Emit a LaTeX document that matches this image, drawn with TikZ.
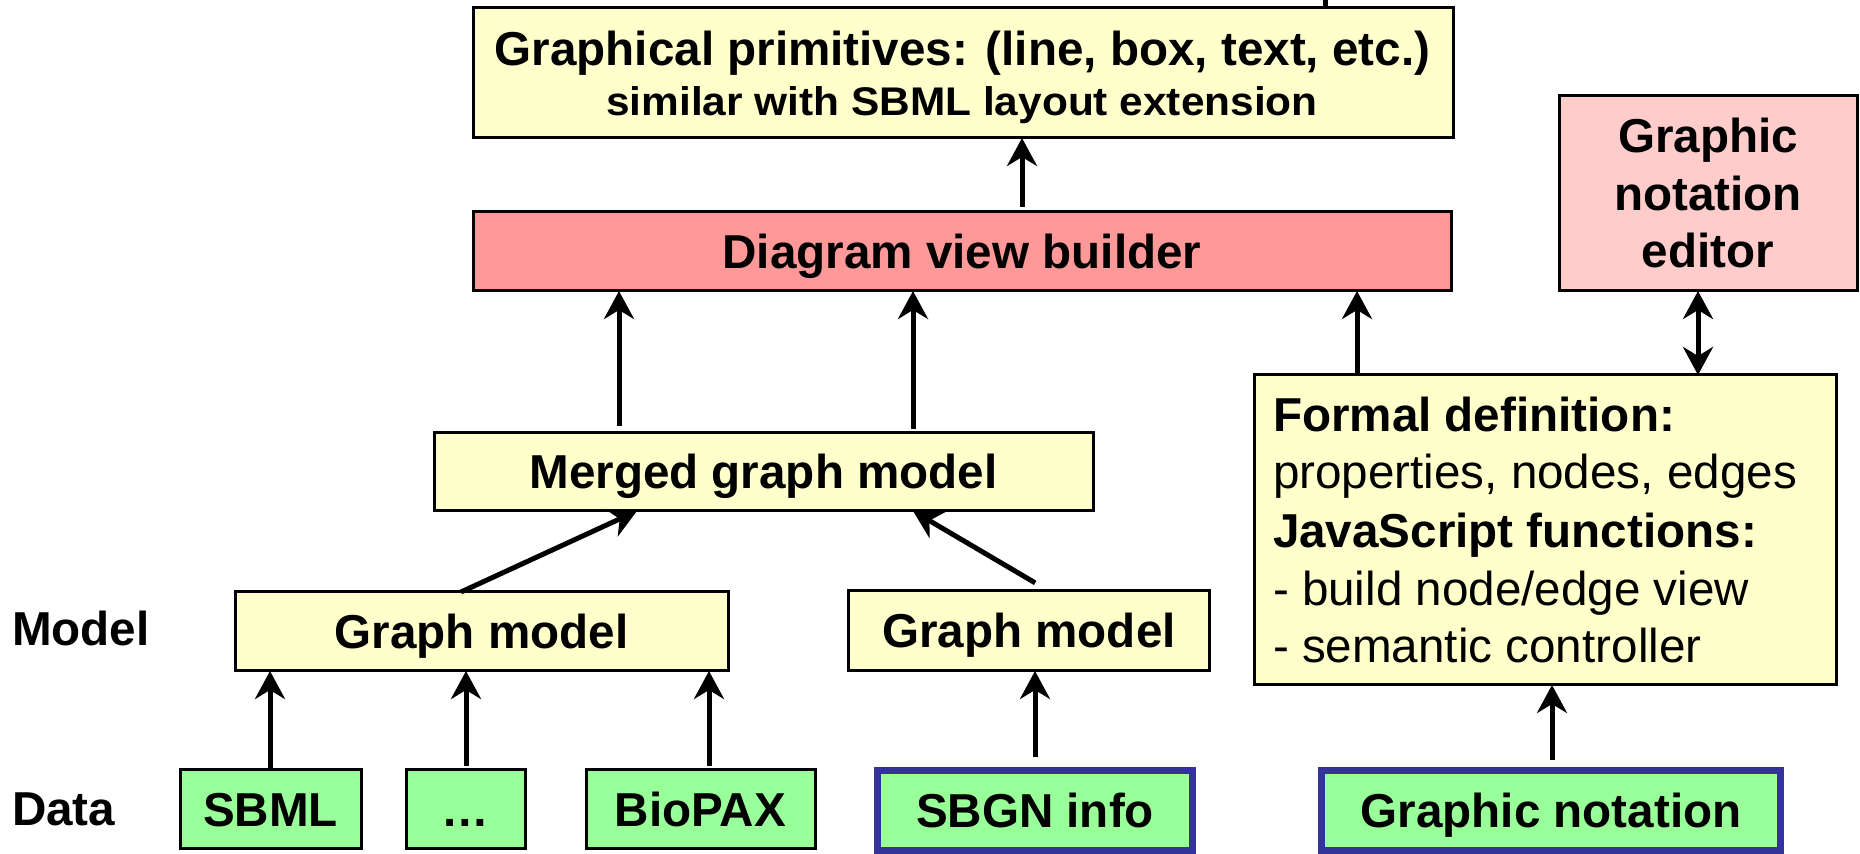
\documentclass[tikz,border=0pt]{standalone}
\usepackage{graphicx}
\usepackage{fontspec}
\setmainfont{Liberation Sans}
\usetikzlibrary{arrows.meta}

\definecolor{boxyellow}{HTML}{FFFFCC}
\definecolor{boxsalmon}{HTML}{FF9999}
\definecolor{boxpink}{HTML}{FFCCCC}
\definecolor{boxgreen}{HTML}{99FF99}
\definecolor{boxnavy}{HTML}{333399}

\newcommand\bigfont{\fontsize{23.8pt}{28.75pt}\selectfont}
\newcommand\subfont{\fontsize{20pt}{24pt}\selectfont}

\begin{document}
\begin{tikzpicture}[x=0.5pt, y=-0.5pt,
  panel/.style={draw=black, line width=1.5pt, inner sep=0pt, outer sep=0pt,
    font=\bigfont\bfseries, text height=16.7pt, text depth=0pt},
  note/.style={panel, fill=boxyellow},
  datum/.style={panel, fill=boxgreen, minimum height=39.5pt},
  keydatum/.style={datum, draw=boxnavy, line width=3.5pt, minimum height=39.75pt},
  txt/.style={inner sep=0pt, outer sep=0pt, font=\bigfont\bfseries},
  flow/.style={line width=2.5pt, -{Stealth[length=14pt, width=15pt, inset=4.5pt]}},
  twoway/.style={line width=2.5pt,
    {Stealth[length=14pt, width=15pt, inset=4.5pt]}-{Stealth[length=14pt, width=15pt, inset=4.5pt]}},
]
\useasboundingbox (0,0) rectangle (1860,854);

% ---- top layer: graphical primitives
\node[note, minimum width=490pt, minimum height=65pt] (prim) at (963,73) {};
\node[txt, anchor=base] (primA) at (962.5,66) {Graphical primitives: (line, box, text, etc.)};
\node[txt, anchor=base, font=\subfont\bfseries] (primB) at (962,116)
  {\scalebox{1.06}[1]{similar with SBML layout extension}};

% ---- view builder and notation editor
\node[panel, fill=boxsalmon, minimum width=489pt, minimum height=39.5pt] (dvb) at (962,251.5) {Diagram view builder};
\node[panel, fill=boxpink, minimum width=149pt, minimum height=97.5pt] (ed) at (1708,193.5) {};
\node[txt, anchor=base] (edA) at (1708,153) {Graphic};
\node[txt, anchor=base] (edB) at (1708,210.5) {notation};
\node[txt, anchor=base] (edC) at (1708,268) {editor};

% ---- formal definition of a notation
\node[note, minimum width=291pt, minimum height=155pt] (formal) at (1545,530) {};
\node[txt, anchor=base west] (fdA) at (1273,432) {Formal definition:};
\node[txt, anchor=base west, font=\bigfont] (fdB) at (1273,489) {properties, nodes, edges};
\node[txt, anchor=base west] (fdC) at (1273,548) {JavaScript functions:};
\node[txt, anchor=base west, font=\bigfont] (fdD) at (1273,605.5) {- build node/edge view};
\node[txt, anchor=base west, font=\bigfont] (fdE) at (1273,663) {- semantic controller};

% ---- model layer
\node[note, minimum width=329.5pt, minimum height=39pt] (merged) at (763.5,472) {Merged graph model};
\node[note, minimum width=246.5pt, minimum height=39.5pt] (gm1) at (481.5,631.5) {Graph model};
\node[note, minimum width=180.5pt, minimum height=40pt] (gm2) at (1029,631) {Graph model};

% ---- data layer
\node[datum, minimum width=90.5pt] (sbml) at (270.5,809.5) {SBML};
\node[datum, minimum width=59.5pt] (dots) at (465.5,809.5) {…};
\node[datum, minimum width=114.5pt] (biopax) at (700.5,809.5) {BioPAX};
\node[keydatum, minimum width=157.5pt] (sbgn) at (1035,810.75) {SBGN info};
\node[keydatum, minimum width=229.5pt] (gnot) at (1551,810.75) {Graphic notation};

% ---- row labels
\node[txt, anchor=base west] (lmodel) at (12,646) {Model};
\node[txt, anchor=base west] (ldata) at (12,826) {Data};

% ---- connector columns
\coordinate (topcut) at (1325,0);
\coordinate (c1022) at (1022,0);
\coordinate (c619) at (619,0);
\coordinate (c913) at (913,0);
\coordinate (c1357) at (1357,0);
\coordinate (c1698) at (1698,0);
\coordinate (c461) at (461,0);
\coordinate (c637) at (637,0);
\coordinate (c1049) at (1049,0);
\coordinate (c1035) at (1035,0);
\coordinate (c270) at (270,0);
\coordinate (c466) at (466,0);
\coordinate (c709) at (709,0);
\coordinate (c1552) at (1552,0);

% ---- connectors
\draw[line width=2.5pt] (topcut) -- (prim.north -| topcut);
\draw[flow, shorten <=2.5pt] (dvb.north -| c1022) -- (prim.south -| c1022);
\draw[flow, shorten <=3.5pt] (merged.north -| c619) -- (dvb.south -| c619);
\draw[flow, shorten <=2pt] (merged.north -| c913) -- (dvb.south -| c913);
\draw[flow] (formal.north -| c1357) -- (dvb.south -| c1357);
\draw[twoway] (ed.south -| c1698) -- (formal.north -| c1698);
\draw[flow] (gm1.north -| c461) -- (merged.south -| c637);
\draw[flow, shorten <=8pt] (gm2.north -| c1049) -- (merged.south -| c913);
\draw[flow] (sbml.north -| c270) -- (gm1.south -| c270);
\draw[flow, shorten <=2pt] (dots.north -| c466) -- (gm1.south -| c466);
\draw[flow, shorten <=2pt] (biopax.north -| c709) -- (gm1.south -| c709);
\draw[flow, shorten <=7pt] (sbgn.north -| c1035) -- (gm2.south -| c1035);
\draw[flow, shorten <=5.5pt] (gnot.north -| c1552) -- (formal.south -| c1552);
\end{tikzpicture}
\end{document}
